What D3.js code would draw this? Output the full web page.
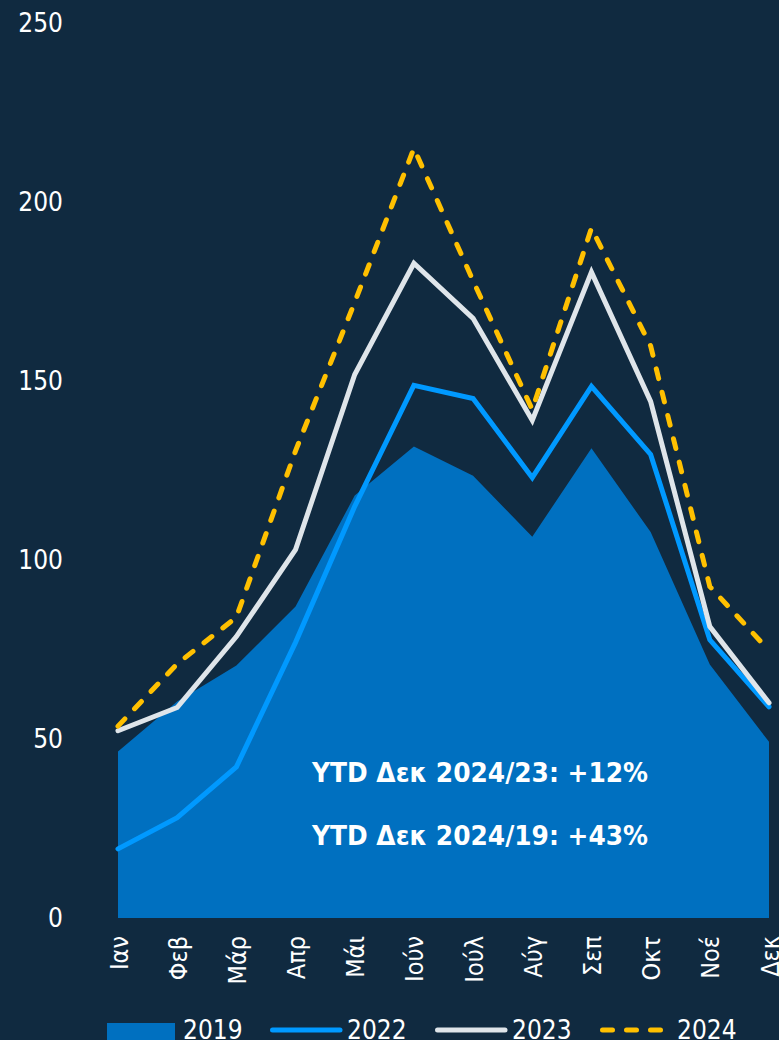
<!DOCTYPE html>
<html>
<head>
<meta charset="utf-8">
<script src="https://cdn.jsdelivr.net/npm/d3@7"></script>
<style>
  html, body { margin: 0; padding: 0; background: #102a40; }
  svg { display: block; }
</style>
</head>
<body>
<svg id="chart" width="779" height="1040"></svg>
<script>
// Monthly series (index values), Jan–Dec
const months = ["Ιαν", "Φεβ", "Μάρ", "Απρ", "Μάι", "Ιούν", "Ιούλ", "Αύγ", "Σεπ", "Οκτ", "Νοέ", "Δεκ"];
const values2019 = [46.5, 60.5, 70.5, 87, 118, 131.7, 123.5, 106.5, 131.2, 107.8, 70.8, 49.2];
const values2022 = [19.3, 28, 42.2, 77, 115, 148.8, 145.1, 123, 148.5, 129.5, 77.7, 59];
const values2023 = [52.3, 58.8, 78.6, 102.9, 151.8, 182.9, 167.5, 139, 180.4, 144.3, 81.4, 60.1];
const values2024 = [53.6, 71, 84, 130.5, 172, 215, 178, 142, 192.7, 159.8, 92.6, 74.7];
const yTicks = [0, 50, 100, 150, 200, 250];
const notes = ["YTD Δεκ 2024/23: +12%", "YTD Δεκ 2024/19: +43%"];
const legendItems = [
  { key: "2019", kind: "area" },
  { key: "2022", kind: "line" },
  { key: "2023", kind: "line" },
  { key: "2024", kind: "dash" }
];

const colors = { "2019": "#0070c0", "2022": "#0099ff", "2023": "#dfe5ea", "2024": "#ffc000" };
const textColor = "#ffffff";
const font = "'DejaVu Sans Condensed', 'DejaVu Sans', sans-serif";

const svg = d3.select("#chart");

const x = d3.scalePoint().domain(months).range([118, 769]);
const y = d3.scaleLinear().domain([0, 250]).range([918, 23]);

// Y axis labels only (no line, no ticks)
const yAxis = svg.append("g")
  .attr("transform", "translate(63,0)")
  .call(d3.axisLeft(y).tickValues(yTicks).tickSize(0).tickPadding(0));
yAxis.select(".domain").remove();
yAxis.selectAll("text")
  .attr("fill", textColor)
  .style("font-family", font)
  .style("font-size", "26px");

// X axis labels, rotated
const xAxis = svg.append("g")
  .attr("transform", "translate(0,918)")
  .call(d3.axisBottom(x).tickSize(0).tickPadding(0));
xAxis.select(".domain").remove();
xAxis.selectAll("text")
  .attr("fill", textColor)
  .style("font-family", font)
  .style("font-size", "25px")
  .attr("text-anchor", "end")
  .attr("transform", "rotate(-90)")
  .attr("x", -18)
  .attr("y", 0)
  .attr("dy", "0.36em");

// 2019 area
const area = d3.area()
  .x((d, i) => x(months[i]))
  .y0(y(0))
  .y1(d => y(d));
svg.append("path")
  .datum(values2019)
  .attr("d", area)
  .attr("fill", colors["2019"]);

// Lines
const line = d3.line()
  .x((d, i) => x(months[i]))
  .y(d => y(d));

function drawLine(data, key, dashed) {
  const p = svg.append("path")
    .datum(data)
    .attr("d", line)
    .attr("fill", "none")
    .attr("stroke", colors[key])
    .attr("stroke-width", 5)
    .attr("stroke-linecap", "round")
    .attr("stroke-linejoin", "miter");
  if (dashed) p.attr("stroke-dasharray", "10,14");
}
drawLine(values2022, "2022", false);
drawLine(values2023, "2023", false);
drawLine(values2024, "2024", true);

// Annotations
svg.selectAll("text.note")
  .data(notes)
  .enter().append("text")
  .attr("class", "note")
  .attr("x", 312)
  .attr("y", (d, i) => 782 + i * 63)
  .attr("fill", textColor)
  .attr("textLength", 336)
  .attr("lengthAdjust", "spacingAndGlyphs")
  .style("font-family", font)
  .style("font-weight", "bold")
  .style("font-size", "26px")
  .text(d => d);

// Legend
const legendPos = { "2019": [107, 183], "2022": [270, 347], "2023": [435, 512], "2024": [600, 677] };
const legend = svg.append("g");
legendItems.forEach(item => {
  const [sx, tx] = legendPos[item.key];
  if (item.kind === "area") {
    legend.append("rect")
      .attr("x", sx).attr("y", 1023)
      .attr("width", 68).attr("height", 17)
      .attr("fill", colors[item.key]);
  } else {
    legend.append("line")
      .attr("x1", sx + 2.5).attr("x2", sx + 70)
      .attr("y1", 1030).attr("y2", 1030)
      .attr("stroke", colors[item.key])
      .attr("stroke-width", 5)
      .attr("stroke-linecap", "round")
      .attr("stroke-dasharray", item.kind === "dash" ? "10,14" : null);
  }
  legend.append("text")
    .attr("x", tx).attr("y", 1039)
    .attr("fill", textColor)
    .style("font-family", font)
    .style("font-size", "26px")
    .text(item.key);
});
</script>
</body>
</html>
